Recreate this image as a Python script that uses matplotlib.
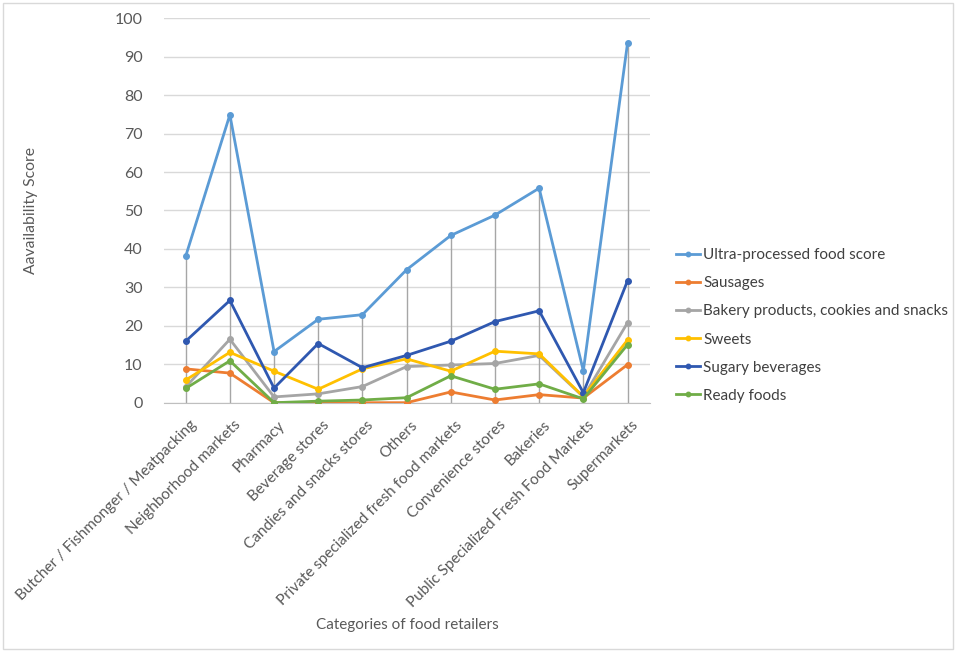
import matplotlib.pyplot as plt
from matplotlib.patches import Rectangle
from matplotlib.transforms import ScaledTranslation
import numpy as np

plt.rcParams['font.family'] = ['Lato', 'DejaVu Sans']

# categories on the x axis
categories = ["Butcher / Fishmonger / Meatpacking", "Neighborhood markets", "Pharmacy",
              "Beverage stores", "Candies and snacks stores", "Others",
              "Private specialized fresh food markets", "Convenience stores", "Bakeries",
              "Public Specialized Fresh Food Markets", "Supermarkets"]

# series values
ultra_processed = [38.1, 74.9, 13.3, 21.7, 22.9, 34.6, 43.5, 48.8, 55.8, 8.3, 93.5]
sausages = [8.8, 7.7, 0.0, 0.0, 0.0, 0.0, 2.8, 0.7, 2.1, 1.2, 9.9]
bakery = [4.1, 16.5, 1.5, 2.3, 4.2, 9.4, 9.8, 10.2, 12.3, 1.5, 20.8]
sweets = [5.9, 13.1, 8.2, 3.5, 8.8, 11.4, 8.2, 13.4, 12.7, 1.6, 16.3]
sugary = [16.0, 26.6, 3.8, 15.4, 9.1, 12.3, 16.0, 21.1, 23.9, 2.6, 31.7]
ready = [3.7, 10.9, 0.0, 0.4, 0.7, 1.3, 7.0, 3.5, 4.9, 1.0, 15.1]

series_names = ["Ultra-processed food score", "Sausages", "Bakery products, cookies and snacks",
                "Sweets", "Sugary beverages", "Ready foods"]
series_values = [ultra_processed, sausages, bakery, sweets, sugary, ready]
colors = ["#5B9BD5", "#ED7D31", "#A5A5A5", "#FFC000", "#2F58B0", "#70AD47"]

fig = plt.figure(figsize=(9.56, 6.52), dpi=100)
ax = fig.add_axes([163.6 / 956, 1 - 402.7 / 652, 486 / 956, 384.4 / 652])

x = np.arange(len(categories))

# drop lines from the top value down to the axis
tops = np.max(np.array(series_values), axis=0)
ax.vlines(x, 0, tops, color="#A6A6A6", lw=1, zorder=2)

for name, vals, c in zip(series_names, series_values, colors):
    ax.plot(x, vals, color=c, lw=2, marker="o", ms=4, label=name, zorder=3)

ax.set_xlim(-0.5, len(categories) - 0.5)
ax.set_ylim(0, 100)
ax.set_yticks(range(0, 101, 10))
ax.grid(axis="y", color="#D9D9D9", lw=1)
ax.set_axisbelow(True)
for s in ["top", "right", "left"]:
    ax.spines[s].set_visible(False)
ax.spines["bottom"].set_color("#BFBFBF")
ax.tick_params(axis="y", length=0, pad=15, labelsize=11.5, labelcolor="#595959")
ax.tick_params(axis="x", length=0, pad=11)
ax.set_xticks(x)
ax.set_xticklabels(categories, rotation=45, ha="right", rotation_mode="anchor",
                   fontsize=11, color="#595959")
shift = ScaledTranslation(4 / 100, 0, fig.dpi_scale_trans)
for lab in ax.get_xticklabels():
    lab.set_transform(lab.get_transform() + shift)

fig.text(31 / 956, 1 - 211 / 652, "Aavailability Score", rotation=90, ha="center", va="center",
         fontsize=11.3, color="#595959")
fig.text(407 / 956, 1 - 625 / 652, "Categories of food retailers", ha="center", va="center",
         fontsize=11, color="#595959")

leg = ax.legend(loc="center left", bbox_to_anchor=(662 / 956, 1 - 325.5 / 652),
                bbox_transform=fig.transFigure, frameon=False, fontsize=11,
                handlelength=1.6, handletextpad=0.2, labelspacing=0.92, markerscale=0.8)
for t in leg.get_texts():
    t.set_color("#404040")

fig.add_artist(Rectangle((3 / 956, 3 / 652), 950 / 956, 646 / 652, transform=fig.transFigure,
                         fill=False, edgecolor="#D9D9D9", lw=1))

fig.savefig("out.png", dpi=100)
